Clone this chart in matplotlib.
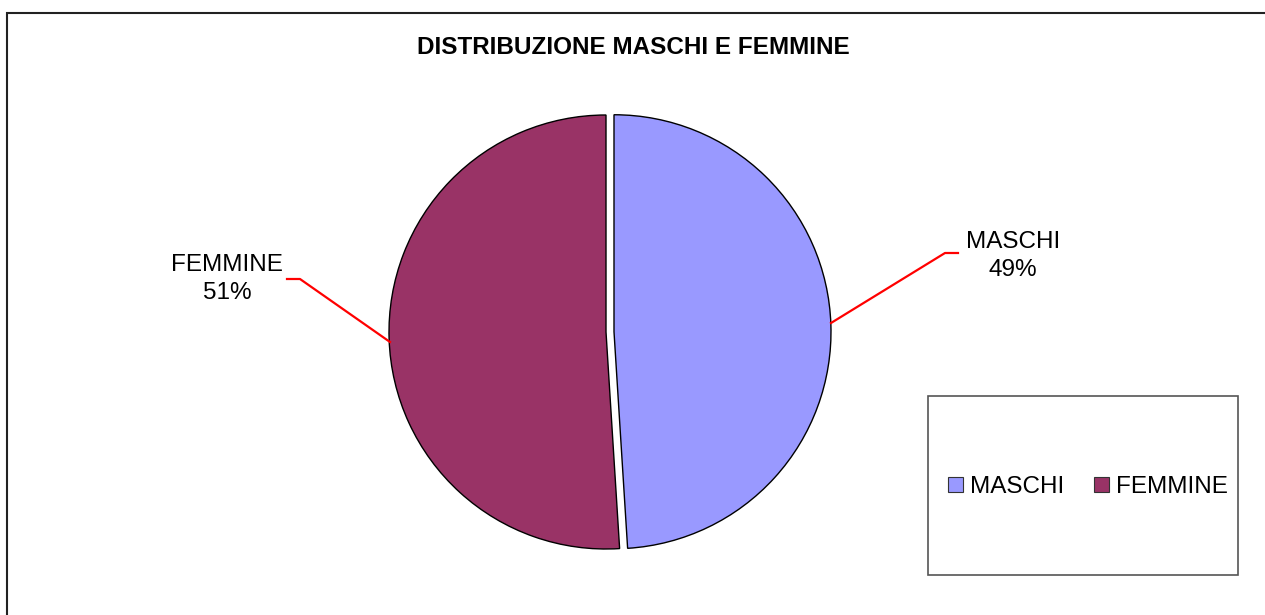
import matplotlib

matplotlib.use("Agg")
import matplotlib.pyplot as plt
from matplotlib.lines import Line2D
from matplotlib.patches import Patch, Rectangle

# data
categories = ["MASCHI", "FEMMINE"]
shares = [49, 51]
colors = ["#9999FF", "#993366"]
title = "DISTRIBUZIONE MASCHI E FEMMINE"

W, H = 1265, 615
plt.rcParams["font.family"] = ["Liberation Sans", "DejaVu Sans"]


def Y(y):
    # pixel row (top origin) -> data y (bottom origin)
    return H - y


fig = plt.figure(figsize=(W / 100, H / 100), dpi=100)
ax = fig.add_axes([0, 0, 1, 1])

radius = 217
center = (606, Y(332))
ax.pie(
    shares,
    colors=colors,
    startangle=90,
    counterclock=False,
    explode=[8, 0],  # pie explode is in data units here
    radius=radius,
    center=center,
    wedgeprops=dict(edgecolor="black", linewidth=1.0),
)
ax.set_xlim(0, W)
ax.set_ylim(0, H)
ax.set_aspect("auto")
ax.axis("off")

# outer chart frame (only left/top visible)
ax.add_patch(Rectangle((7, Y(700)), 1400, 700 - 13, fill=False,
                       edgecolor="#222222", linewidth=1.5, clip_on=False))

ax.text(633, Y(48), title, ha="center", va="center", fontsize=17.5,
        fontweight="bold")

# data labels with red leader lines
label_txt = [f"{c}\n{v}%" for c, v in zip(categories, shares)]
leaders = [
    [(831, 323), (945, 253), (958, 253)],
    [(390, 342), (300, 279), (287, 279)],
]
label_pos = [(1013, 256), (227, 279)]
for txt, pts, (lx, ly) in zip(label_txt, leaders, label_pos):
    xs = [p[0] for p in pts]
    ys = [Y(p[1]) for p in pts]
    ax.add_line(Line2D(xs, ys, color="#FF0000", linewidth=1.6))
    ax.text(lx, Y(ly), txt, ha="center", va="center", fontsize=17.5,
            linespacing=1.4)

# legend box
ax.add_patch(Rectangle((928, Y(575)), 310, 575 - 396, facecolor="white",
                       edgecolor="#555555", linewidth=1.2))
handles = [Patch(facecolor=c, edgecolor="#333333", linewidth=0.8) for c in colors]
ax.legend(handles, categories, loc="center", ncol=2, frameon=False,
          bbox_to_anchor=(1088 / W, 1 - 487 / H), fontsize=17.5,
          handlelength=0.62, handleheight=0.62, handletextpad=0.3,
          columnspacing=1.2, borderpad=0)

fig.savefig("out.png", dpi=100)
